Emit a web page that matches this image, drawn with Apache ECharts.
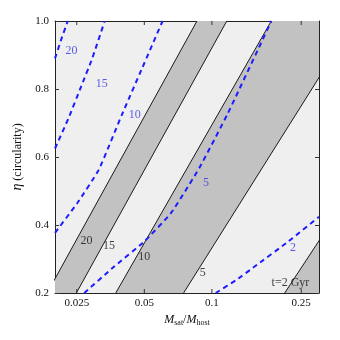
<!DOCTYPE html>
<html>
<head>
<meta charset="utf-8">
<script src="https://cdn.jsdelivr.net/npm/echarts@6/dist/echarts.min.js"></script>
<style>html,body{margin:0;padding:0;background:#fff}#main{width:340px;height:340px}</style>
</head>
<body>
<div id="main"></div>
<script>
// ticks
var xTicks = [0.025, 0.05, 0.1, 0.25];
var yTicks = [0.2, 0.4, 0.6, 0.8, 1.0];

// black contours: x where the line meets eta=0.2 and eta=1.0
var contourNames = ['20', '15', '10', '5', '2'];
var contourXlow = [0.01845, 0.0249, 0.0373, 0.0748, 0.211];
var contourXhigh = [0.0858, 0.1165, 0.1839, 0.432, 1.32];
// gray bands: pairs of contour indexes (-1 = right edge)
var grayBands = [[0, 1], [2, 3], [4, -1]];

// blue dashed curves
var dash20 = [[0.0200, 0.89], [0.0213, 0.945], [0.0228, 1.0]];
var dash15 = [[0.0200, 0.625], [0.0230, 0.715], [0.0260, 0.803], [0.0293, 0.89], [0.0333, 1.0]];
var dash10 = [[0.0200, 0.377], [0.0251, 0.464], [0.0313, 0.562], [0.0397, 0.724], [0.0485, 0.856], [0.0603, 1.0]];
var dash5 = [[0.0270, 0.2], [0.0365, 0.2765], [0.0497, 0.35], [0.0657, 0.435], [0.0879, 0.568], [0.1178, 0.7285], [0.1840, 1.0]];
var dash2 = [[0.104, 0.2], [0.1282, 0.238], [0.1544, 0.277], [0.2185, 0.351], [0.3, 0.424]];

// text labels
var blackLabels = [['20', 0.0276, 0.354], ['15', 0.0348, 0.338], ['10', 0.0499, 0.305], ['5', 0.091, 0.258]];
var blueLabels = [['20', 0.0237, 0.912], ['15', 0.0323, 0.815], ['10', 0.0453, 0.7235], ['5', 0.0941, 0.5235], ['2', 0.230, 0.332]];
var noteLabel = [['t=2 Gyr', 0.2238, 0.230]];

var font = 'Liberation Serif';
var BLUE = '#1c1cff';

var chart = echarts.init(document.getElementById('main'));

function fmtX(v) { return String(+(+v).toPrecision(3)); }

var bandData = grayBands.map(function (b) {
  var a0 = contourXlow[b[0]], a1 = contourXhigh[b[0]];
  var c0 = b[1] < 0 ? 10 : contourXlow[b[1]];
  var c1 = b[1] < 0 ? 10 : contourXhigh[b[1]];
  return [a0, a1, c0, c1];
});

var series = [];
series.push({
  type: 'custom',
  clip: true,
  z: 1,
  silent: true,
  data: bandData,
  renderItem: function (params, api) {
    var pts = [
      api.coord([api.value(0), 0.2]),
      api.coord([api.value(1), 1.0]),
      api.coord([api.value(3), 1.0]),
      api.coord([api.value(2), 0.2])
    ];
    return { type: 'polygon', shape: { points: pts }, style: { fill: '#c2c2c2' } };
  }
});

contourNames.forEach(function (n, i) {
  series.push({
    type: 'line', name: 'c' + n, z: 3, symbol: 'none', silent: true,
    data: [[contourXlow[i], 0.2], [contourXhigh[i], 1.0]],
    lineStyle: { color: '#1a1a1a', width: 1 }
  });
});

[dash20, dash15, dash10, dash5, dash2].forEach(function (d) {
  series.push({
    type: 'line', z: 4, symbol: 'none', smooth: 0.15, silent: true,
    data: d,
    lineStyle: { color: BLUE, width: 2, type: [5, 4] }
  });
});

function textSeries(arr, color) {
  return {
    type: 'scatter', z: 5, symbolSize: 0, silent: true,
    data: arr.map(function (t) { return { name: t[0], value: [t[1], t[2]] }; }),
    label: { show: true, position: 'inside', formatter: '{b}', color: color, fontFamily: font, fontSize: 12 }
  };
}
series.push(textSeries(blackLabels, '#111'));
series.push(textSeries(blueLabels, '#3434e8'));
series.push(textSeries(noteLabel, '#111'));

// x tick marks on bottom and top edges
series.push({
  type: 'custom', z: 6, clip: false, silent: true,
  data: xTicks.map(function (v) { return [v, 0.2]; }),
  renderItem: function (params, api) {
    var b = api.coord([api.value(0), 0.2]);
    var t = api.coord([api.value(0), 1.0]);
    var st = { stroke: '#333', lineWidth: 1 };
    return {
      type: 'group',
      children: [
        { type: 'line', shape: { x1: b[0], y1: b[1], x2: b[0], y2: b[1] - 4 }, style: st },
        { type: 'line', shape: { x1: t[0], y1: t[1], x2: t[0], y2: t[1] + 4 }, style: st }
      ]
    };
  }
});

var xBase = {
  type: 'log', logBase: 10, min: 0.02, max: 0.3,
  splitLine: { show: false },
  axisLine: { show: true, lineStyle: { color: '#222', width: 1 } },
  axisTick: { show: false },
  minorTick: { show: false }
};
var yBase = {
  type: 'value', min: 0.2, max: 1.0, interval: 0.2,
  splitLine: { show: false },
  axisLine: { show: true, lineStyle: { color: '#222', width: 1 } },
  axisTick: { show: true, inside: true, length: 4, lineStyle: { color: '#333' } }
};

var option = {
  animation: false,
  backgroundColor: '#fff',
  grid: { left: 55, right: 21, top: 21, bottom: 47, show: true, backgroundColor: '#efefef', borderWidth: 0 },
  xAxis: [
    Object.assign({}, xBase, {
      position: 'bottom',
      name: '{i|M}{s|sat}{n|/}{i|M}{s|host}',
      nameLocation: 'middle', nameGap: 17,
      nameTextStyle: {
        rich: {
          i: { fontFamily: font, fontStyle: 'italic', fontSize: 12, color: '#111' },
          n: { fontFamily: font, fontSize: 12, color: '#111' },
          s: { fontFamily: font, fontSize: 8, color: '#111', padding: [6, 0, 0, 0] }
        }
      },
      axisLabel: { customValues: xTicks, formatter: fmtX, fontFamily: font, fontSize: 11, color: '#111', margin: 5 }
    }),
    Object.assign({}, xBase, { position: 'top', axisLabel: { show: false } })
  ],
  yAxis: [
    Object.assign({}, yBase, {
      position: 'left',
      name: '{e|η} (circularity)',
      nameLocation: 'middle', nameRotate: 90, nameGap: 25,
      nameTextStyle: {
        fontFamily: font, fontSize: 12, color: '#111',
        rich: { e: { fontFamily: font, fontStyle: 'italic', fontSize: 14, color: '#111' } }
      },
      axisLabel: { formatter: function (v) { return v.toFixed(1); }, fontFamily: font, fontSize: 11, color: '#111', margin: 6 }
    }),
    Object.assign({}, yBase, { position: 'right', axisLabel: { show: false } })
  ],
  series: series
};

chart.setOption(option);
</script>
</body>
</html>
